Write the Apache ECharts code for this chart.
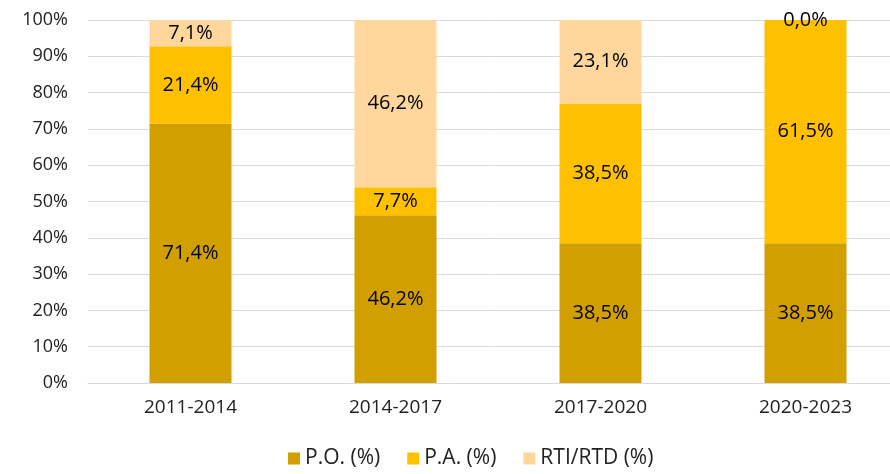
<!DOCTYPE html>
<html><head><meta charset="utf-8">
<script src="https://cdn.jsdelivr.net/npm/echarts@6/dist/echarts.min.js"></script>
<style>html,body{margin:0;padding:0;background:#fff}#c{width:890px;height:474px}</style>
</head><body><div id="c"></div>
<script>
const categories = ['2011-2014','2014-2017','2017-2020','2020-2023'];
const seriesNames = ['P.O. (%)','P.A. (%)','RTI/RTD (%)'];
const poValues = [71.4, 46.2, 38.5, 38.5];
const paValues = [21.4, 7.7, 38.5, 61.5];
const rtiValues = [7.1, 46.2, 23.1, 0.0];
const colors = ['#D19F00','#FFC000','#FFD79C'];
const font = '"Open Sans", sans-serif';
const chart = echarts.init(document.getElementById('c'));
const fmt = p => p.value.toFixed(1).replace('.', ',') + '%';
const mk = (name, data, color) => ({
  name, type: 'bar', stack: 's', data, barWidth: '40%',
  itemStyle: {color},
  label: {show: true, position: 'inside', formatter: fmt, color: '#000', fontSize: 20, fontFamily: font}
});
chart.setOption({
  animation: false,
  grid: {left: 88, width: 820, top: 20, bottom: 91, outerBoundsMode: 'none', containLabel: false},
  legend: {bottom: 0, left: 283, itemWidth: 12, itemHeight: 12, itemGap: 27,
    textStyle: {fontSize: 21, fontFamily: font, color: '#222'}, icon: 'rect',
    data: seriesNames},
  xAxis: {type: 'category', data: categories,
    axisLine: {lineStyle: {color: '#d9d9d9'}}, axisTick: {show: false},
    axisLabel: {fontSize: 19, fontFamily: font, color: '#222', margin: 15}},
  yAxis: {type: 'value', min: 0, max: 100, interval: 10,
    axisLabel: {formatter: '{value}%', fontSize: 18, fontFamily: font, color: '#222', margin: 20},
    splitLine: {lineStyle: {color: '#d9d9d9', width: 1}},
    axisLine: {show: false}, axisTick: {show: false}},
  series: [mk(seriesNames[0], poValues, colors[0]), mk(seriesNames[1], paValues, colors[1]), mk(seriesNames[2], rtiValues, colors[2])]
});
</script></body></html>
